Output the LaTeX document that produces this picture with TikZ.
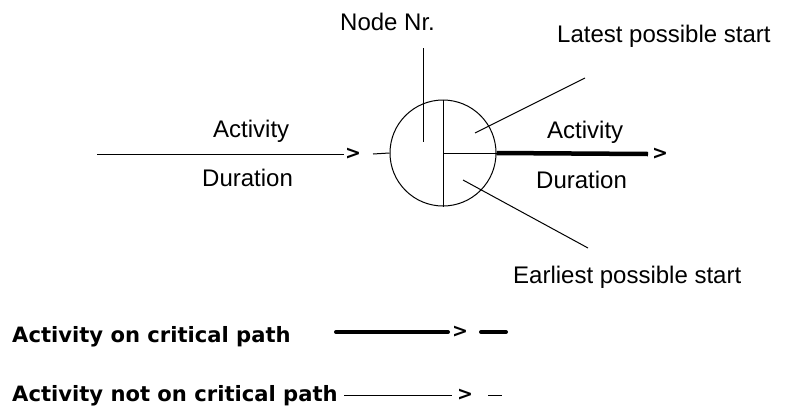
\documentclass[tikz,border=0pt]{standalone}
\usepackage{fontspec}
\setmainfont{Liberation Sans}
\newfontfamily\legendfont{DejaVu Sans}
\begin{document}
\begin{tikzpicture}[x=1pt,y=-1pt,
  lbl/.style={inner sep=0pt, anchor=base west, font=\fontsize{24}{28}\selectfont},
  leg/.style={inner sep=0pt, anchor=base west, font=\legendfont\bfseries\fontsize{21.1}{25}\selectfont},
  tipmark/.style={inner sep=0pt, font=\legendfont\bfseries\fontsize{19}{23}\selectfont},
  thinline/.style={line width=1pt},
  boldline/.style={line width=4.5pt},
]
\useasboundingbox[fill=white] (0,0) rectangle (788,408);
% event node
\node[circle, draw, line width=1pt, minimum size=106pt, inner sep=0pt] (c) at (443,153) {};
\draw[thinline] (c.north) -- (c.south);
\draw[thinline] (c.center) -- (c.east);
% labels
\node[lbl] (nodenr) at (340,30) {Node Nr.};
\node[lbl] (latest) at (557,42) {Latest possible start};
\node[lbl] (earliest) at (513,283) {Earliest possible start};
\node[lbl] (actL) at (213,137) {Activity};
\node[lbl] (durL) at (202,186) {Duration};
\node[lbl] (actR) at (547,138) {Activity};
\node[lbl] (durR) at (536,188) {Duration};
% pointers
\coordinate (nn1) at (423,48);
\coordinate (nn2) at (423,142);
\draw[thinline] (nn1) -- (nn2);
\coordinate (ls1) at (475,133);
\coordinate (ls2) at (585,78);
\draw[thinline] (ls1) -- (ls2);
\coordinate (es1) at (463,180);
\coordinate (es2) at (588,248);
\draw[thinline] (es1) -- (es2);
% incoming activity
\coordinate (in0) at (97,154);
\coordinate (in1) at (344,154);
\node[tipmark] (gtL) at (353,154) {>};
\coordinate (in2) at (373,154);
\draw[thinline] (in0) -- (in1);
\draw[thinline] (in2) -- (c.west);
% outgoing critical activity
\coordinate (out1) at (648,154);
\node[tipmark] (gtR) at (660,154) {>};
\draw[boldline] (c.east) -- (out1);
% legend
\node[leg] (leg1) at (12,342) {Activity on critical path};
\node[leg] (leg2) at (12,401) {Activity not on critical path};
\coordinate (a0) at (336,332);
\coordinate (a1) at (448,332);
\node[tipmark] (gtA) at (460,332) {>};
\coordinate (a2) at (481,332);
\coordinate (a3) at (506,332);
\draw[boldline, line cap=round, line width=4pt] (a0) -- (a1);
\draw[boldline, line cap=round, line width=4pt] (a2) -- (a3);
\coordinate (b0) at (344,395);
\coordinate (b1) at (452,395);
\node[tipmark] (gtB) at (465,395) {>};
\coordinate (b2) at (488,395);
\coordinate (b3) at (502,395);
\draw[thinline] (b0) -- (b1);
\draw[thinline] (b2) -- (b3);
\end{tikzpicture}
\end{document}
